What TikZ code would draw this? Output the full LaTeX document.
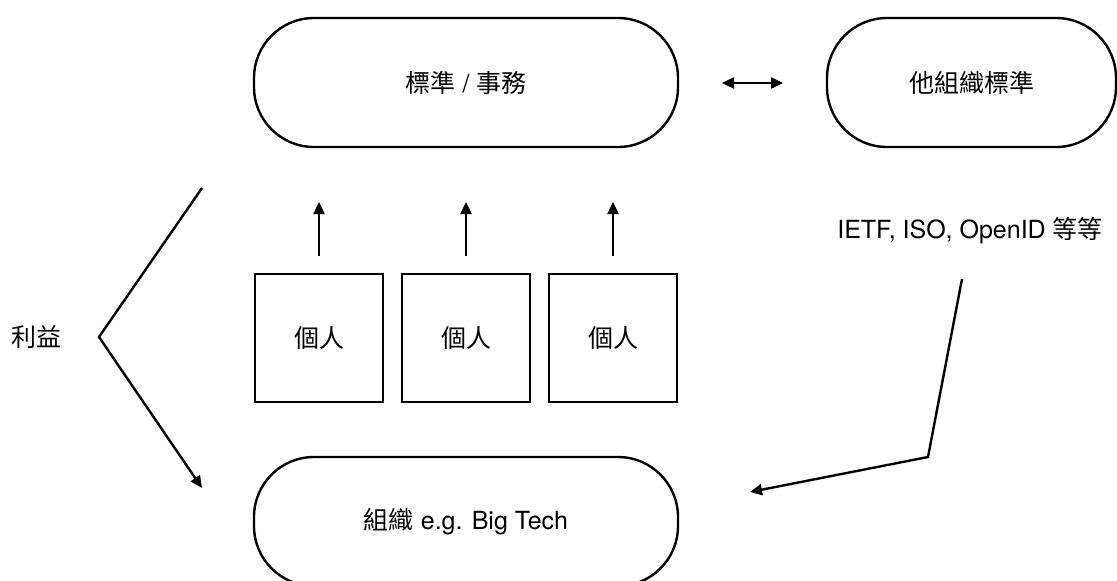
\documentclass[tikz,border=0pt]{standalone}
\usepackage{fontspec}
\setmainfont{TeX Gyre Heros}
\newfontfamily\cjk{Noto Sans CJK TC}
\usetikzlibrary{arrows.meta}
\begin{document}
\begin{tikzpicture}[x=1pt,y=-1pt,
  every node/.style={font=\fontsize{25}{30}\selectfont},
  line/.style={line width=2.4pt,line join=miter},
  tip/.style={-{Triangle[length=12pt,width=11pt]}},
  stadium/.style={draw,line width=2.4pt,rounded corners=60pt,minimum height=129pt,inner sep=0pt},
  person/.style={draw,line width=2.4pt,minimum width=128pt,minimum height=128pt,inner sep=0pt}]
\useasboundingbox (0,0) rectangle (1117,581);

% Upper and lower bodies
\node[stadium,minimum width=424pt] (std) at (466,82.5) {{\cjk 標準} / {\cjk 事務}};
\node[stadium,minimum width=289pt] (other) at (971.5,82.5) {\cjk 他組織標準};
\node[stadium,minimum width=424pt] (org) at (466,521.5) {{\cjk 組織} e.g. Big Tech};

% Individuals
\node[person] (p1) at (319,338) {\cjk 個人};
\node[person] (p2) at (466,338) {\cjk 個人};
\node[person] (p3) at (613,338) {\cjk 個人};

% Side labels
\node (gain) at (37,337) {\cjk 利益};
\node (ext) at (970,231) {IETF, ISO, OpenID {\cjk 等等}};

% Arrows from the individuals up to the standards body
\foreach \i/\x in {1/319,2/466,3/613}{
  \coordinate (s\i) at (\x,256);
  \coordinate (e\i) at (\x,202);
  \draw[line,tip] (s\i) -- (e\i);
}

% Exchange between standards bodies
\coordinate (da) at (722,83);
\coordinate (db) at (783,83);
\draw[line,{Triangle[length=12pt,width=11pt]}-{Triangle[length=12pt,width=11pt]}] (da) -- (db);

% Interest chevron on the left
\coordinate (ga) at (202,188);
\coordinate (gb) at (99,337);
\coordinate (gc) at (202,488);
\draw[line,tip] (ga) -- (gb) -- (gc);

% Influence of other standards on organisations
\coordinate (ra) at (962,279);
\coordinate (rb) at (928,457);
\coordinate (rc) at (750,492);
\draw[line,tip] (ra) -- (rb) -- (rc);
\end{tikzpicture}
\end{document}
